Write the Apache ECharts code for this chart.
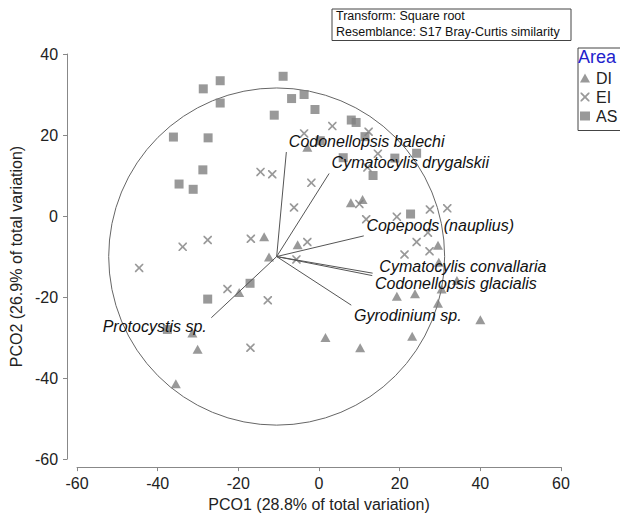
<!DOCTYPE html>
<html>
<head>
<meta charset="utf-8">
<script src="https://cdn.jsdelivr.net/npm/echarts@6/dist/echarts.min.js"></script>
<style>
html,body{margin:0;padding:0;background:#fff;}
#chart{width:620px;height:517px;}
</style>
</head>
<body>
<div id="chart"></div>
<script>
// ---- data ----
var xTicks = [-60, -40, -20, 0, 20, 40, 60];
var yTicks = [-60, -40, -20, 0, 20, 40];
var groupNames = ['DI', 'EI', 'AS'];
var dataDI = [
  [-2.9,17.0],[7.9,3.3],[10.8,4.1],[-13.6,-5.1],[-5.3,-7.1],[-12.4,-10.1],
  [29.5,-7.2],[29.7,-11.4],[34.2,-15.9],[30.4,-18.0],[-19.8,-18.9],[19.3,-19.8],
  [23.8,-19.2],[29.5,-21.5],[40.0,-25.6],[1.6,-30.0],[23.1,-29.7],[10.2,-32.5],
  [-31.4,-28.9],[-30.1,-32.9],[-35.5,-41.4]
];
var dataEI = [
  [-3.7,20.4],[3.3,22.2],[12.3,20.8],[-14.5,10.9],[-11.6,10.3],[-1.9,8.2],
  [14.6,15.4],[12.0,12.0],[-6.2,2.1],[10.0,3.0],[11.7,-0.8],[19.3,-0.2],
  [27.5,1.6],[31.8,1.9],[24.2,-6.4],[27.0,-4.1],[21.2,-9.5],[27.4,-8.7],
  [-33.8,-7.6],[-27.6,-5.9],[-16.9,-5.6],[-2.9,-6.4],[-5.6,-10.7],[-44.6,-12.8],
  [-22.7,-18.0],[-12.7,-20.8],[-17.0,-32.5]
];
var dataAS = [
  [-8.9,34.5],[-24.5,33.4],[-28.7,31.4],[-24.5,27.9],[-6.8,29.0],[-3.7,30.0],
  [-1.0,26.3],[-11.1,24.9],[8.0,23.7],[9.2,23.1],[-36.1,19.5],[-27.5,19.3],
  [11.4,19.6],[0.3,18.6],[6.0,14.4],[18.8,14.3],[24.2,15.5],[13.4,10.0],
  [-28.8,11.4],[-34.7,7.9],[-31.2,6.6],[22.7,0.5],[-17.1,-16.6],[-27.6,-20.5],
  [-37.6,-28.0]
];
var vectorOrigin = [-10.5, -10.0];
var circleRadius = 41.65;
var vectorNames = ['Codonellopsis balechi','Cymatocylis drygalskii','Copepods (nauplius)',
  'Cymatocylis convallaria','Codonellopsis glacialis','Gyrodinium sp.','Protocystis sp.'];
var vectorEndX = [-8.1, 2.5, 11.1, 13.3, 13.2, 8.0, -26.7];
var vectorEndY = [15.8, 10.5, -4.9, -14.1, -14.7, -22.0, -25.1];
var xTitle = 'PCO1 (28.8% of total variation)';
var yTitle = 'PCO2 (26.9% of total variation)';
var noteLines = ['Transform: Square root', 'Resemblance: S17 Bray-Curtis similarity'];
var legendTitle = 'Area';

// ---- styles ----
var FONT = '"Liberation Sans", Arial, Helvetica, sans-serif';
var MARK = '#808080';
var CROSS = 'path://M0,0 L1.4,0 L5,3.6 L8.6,0 L10,0 L10,1.4 L6.4,5 L10,8.6 L10,10 L8.6,10 L5,6.4 L1.4,10 L0,10 L0,8.6 L3.6,5 L0,1.4 Z';
// label placement relative to vector tip (pixels)
var labelStyle = [
  {dx:2.5, dy:-10.5, align:'left'},
  {dx:2.5, dy:-10.7, align:'left'},
  {dx:2.6, dy:-10.4, align:'left'},
  {dx:6.7, dy:-6.5, align:'left'},
  {dx:2.7, dy:8.4, align:'left'},
  {dx:2.8, dy:10.1, align:'left'},
  {dx:-4.6, dy:9.1, align:'right'}
];

var vectorData = vectorNames.map(function (n, i) {
  return [vectorOrigin[0], vectorOrigin[1], vectorEndX[i], vectorEndY[i], i];
});

var chart = echarts.init(document.getElementById('chart'), null, {renderer: 'svg'});
var option = {
  animation: false,
  backgroundColor: '#fff',
  textStyle: {fontFamily: FONT},
  grid: {left: 69, right: 59, top: 54, bottom: 53},
  xAxis: {
    type: 'value', min: xTicks[0], max: xTicks[xTicks.length - 1], interval: 20,
    offset: 8,
    name: xTitle, nameLocation: 'middle', nameGap: 28,
    nameTextStyle: {fontSize: 16, color: '#222', fontFamily: FONT},
    axisLine: {show: true, onZero: false, lineStyle: {color: '#888', width: 1}},
    axisTick: {show: true, inside: false, length: 4, lineStyle: {color: '#888'}},
    axisLabel: {fontSize: 16, color: '#222', margin: 8, fontFamily: FONT},
    splitLine: {show: false}
  },
  yAxis: {
    type: 'value', min: yTicks[0], max: yTicks[yTicks.length - 1], interval: 20,
    offset: 10,
    name: yTitle, nameLocation: 'middle', nameGap: 38, nameRotate: 90,
    nameTextStyle: {fontSize: 16, color: '#222', fontFamily: FONT},
    axisLine: {show: true, onZero: false, lineStyle: {color: '#888', width: 1}},
    axisTick: {show: true, inside: false, length: 4, lineStyle: {color: '#888'}},
    axisLabel: {fontSize: 16, color: '#222', margin: 9, fontFamily: FONT},
    splitLine: {show: false}
  },
  legend: {
    orient: 'vertical', left: 580, top: 70, padding: 0,
    itemWidth: 10, itemHeight: 9, itemGap: 3,
    textStyle: {fontSize: 16, color: '#222', fontFamily: FONT, padding: [0,0,0,1]},
    data: groupNames
  },
  graphic: [
    {type: 'rect', left: 331.5, top: 8.5, shape: {width: 239, height: 31.5},
      style: {fill: '#fff', stroke: '#444', lineWidth: 1}, z: 10},
    {type: 'text', left: 336, top: 9, style: {text: noteLines[0], font: '12.5px ' + FONT, fill: '#111'}, z: 11},
    {type: 'text', left: 336, top: 25.5, style: {text: noteLines[1], font: '12.5px ' + FONT, fill: '#111'}, z: 11},
    {type: 'rect', left: 575.5, top: 45.5, shape: {width: 60, height: 82.5},
      style: {fill: 'none', stroke: '#444', lineWidth: 1}, z: 10},
    {type: 'text', left: 578, top: 48, style: {text: legendTitle, font: '18px ' + FONT, fill: '#2222cc'}, z: 11}
  ],
  series: [
    {
      name: 'circle', type: 'custom', silent: true, z: 1,
      data: [[vectorOrigin[0], vectorOrigin[1], circleRadius]],
      renderItem: function (params, api) {
        var c = api.coord([api.value(0), api.value(1)]);
        var s = api.size([api.value(2), api.value(2)]);
        var rx = s[0], ry = s[1];
        return {
          type: 'path',
          shape: {pathData: 'M' + (c[0]-rx) + ' ' + c[1] +
            ' A' + rx + ' ' + ry + ' 0 1 0 ' + (c[0]+rx) + ' ' + c[1] +
            ' A' + rx + ' ' + ry + ' 0 1 0 ' + (c[0]-rx) + ' ' + c[1] + ' Z'},
          style: {fill: 'none', stroke: '#666', lineWidth: 1}
        };
      },
      clip: false
    },
    {name: 'DI', type: 'scatter', data: dataDI, symbol: 'triangle', symbolSize: [10, 9],
      itemStyle: {color: MARK}, z: 3},
    {name: 'EI', type: 'scatter', data: dataEI, symbol: CROSS, symbolSize: 8.5,
      itemStyle: {color: MARK}, z: 3},
    {name: 'AS', type: 'scatter', data: dataAS, symbol: 'rect', symbolSize: 9,
      itemStyle: {color: MARK}, z: 3},
    {
      name: 'vectors', type: 'custom', silent: true, z: 5,
      data: vectorData,
      renderItem: function (params, api) {
        var p0 = api.coord([api.value(0), api.value(1)]);
        var p1 = api.coord([api.value(2), api.value(3)]);
        var i = api.value(4);
        var ls = labelStyle[i];
        return {
          type: 'group',
          children: [
            {type: 'line', shape: {x1: p0[0], y1: p0[1], x2: p1[0], y2: p1[1]},
              style: {stroke: '#555', lineWidth: 1}},
            {type: 'text', x: p1[0] + ls.dx, y: p1[1] + ls.dy,
              style: {text: vectorNames[i], font: 'italic 16px ' + FONT, fill: '#111',
                align: ls.align, verticalAlign: 'middle'}}
          ]
        };
      },
      clip: false
    }
  ]
};
chart.setOption(option);
</script>
</body>
</html>
